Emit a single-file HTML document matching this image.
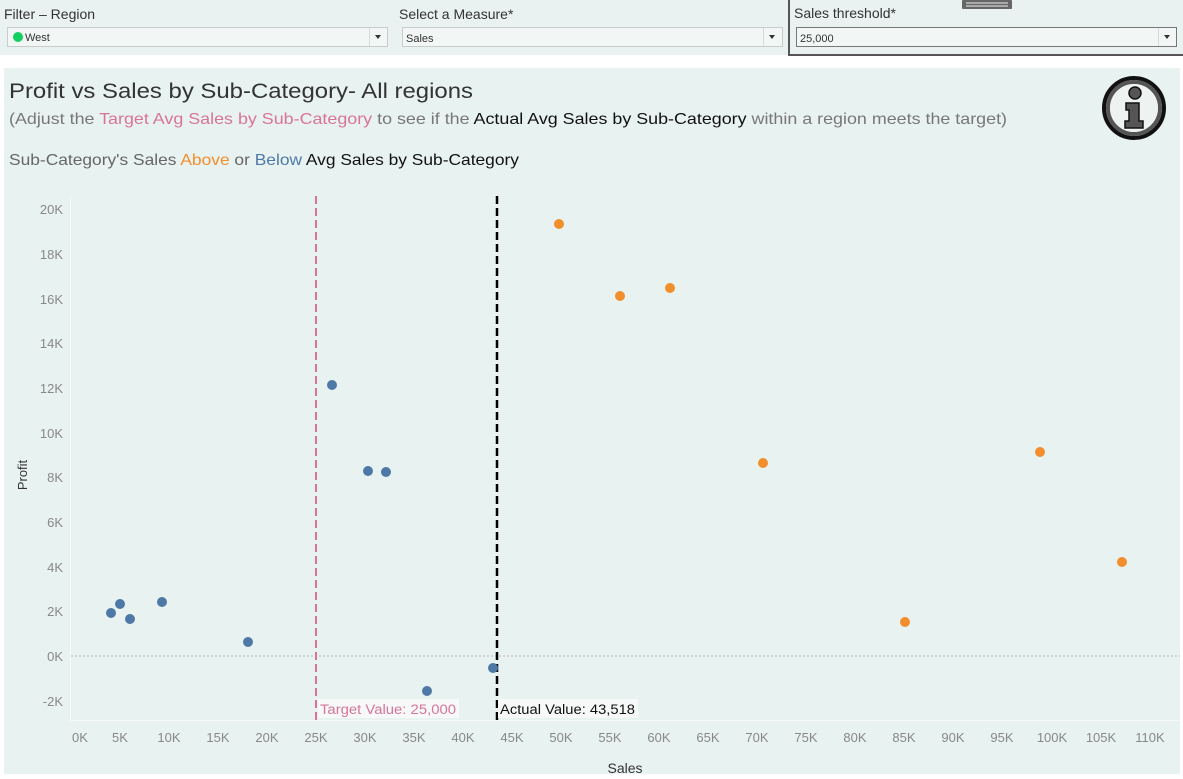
<!DOCTYPE html>
<html><head><meta charset="utf-8"><style>
body{margin:0;width:1183px;height:774px;background:#fff;overflow:hidden;font-family:"Liberation Sans",sans-serif;}
</style></head><body>
<svg width="1183" height="774" xmlns="http://www.w3.org/2000/svg" font-family="Liberation Sans, sans-serif">
<rect x="0" y="0" width="1183" height="55" fill="#e9f2f0"/>
<text x="4" y="19" font-size="14" fill="#333">Filter – Region</text>
<rect x="7.5" y="27.5" width="380" height="19" fill="#f2f7f6" stroke="#c8cccc"/>
<line x1="369.5" y1="28" x2="369.5" y2="46" stroke="#d5d9d9"/>
<path d="M375 35 l6 0 l-3 4z" fill="#333"/>
<circle cx="18" cy="37" r="5" fill="#12d060"/>
<text x="25" y="41" font-size="11" fill="#333">West</text>
<text x="399" y="19" font-size="14" fill="#333">Select a Measure*</text>
<rect x="402.5" y="27.5" width="380" height="19" fill="#f2f7f6" stroke="#c8cccc"/>
<line x1="763.5" y1="28" x2="763.5" y2="46" stroke="#d5d9d9"/>
<path d="M769 35 l6 0 l-3 4z" fill="#333"/>
<text x="406" y="42" font-size="11" fill="#333">Sales</text>
<path d="M789 0 V55 H1183" fill="none" stroke="#555" stroke-width="2"/>
<rect x="962" y="0" width="50" height="9" fill="#666" rx="1"/>
<line x1="966" y1="3" x2="1008" y2="3" stroke="#eee"/><line x1="966" y1="6" x2="1008" y2="6" stroke="#eee"/>
<text x="794" y="18" font-size="14" fill="#333">Sales threshold*</text>
<rect x="796.5" y="27.5" width="380" height="19" fill="#f2f7f6" stroke="#777"/>
<line x1="1158.5" y1="28" x2="1158.5" y2="46" stroke="#d5d9d9"/>
<path d="M1164 35 l6 0 l-3 4z" fill="#333"/>
<text x="800" y="42" font-size="11" fill="#333">25,000</text>

<rect x="4" y="68" width="1176" height="706" fill="#e8f2f0"/>
<text x="9" y="98" font-size="21" fill="#333" textLength="464" lengthAdjust="spacingAndGlyphs">Profit vs Sales by Sub-Category- All regions</text>
<text x="9" y="124" font-size="16" fill="#777" textLength="998" lengthAdjust="spacingAndGlyphs">(Adjust the <tspan fill="#d8749a">Target Avg Sales by Sub-Category</tspan> to see if the <tspan fill="#111">Actual Avg Sales by Sub-Category</tspan> within a region meets the target)</text>
<text x="9" y="165" font-size="16" fill="#666" textLength="510" lengthAdjust="spacingAndGlyphs">Sub-Category's Sales <tspan fill="#f28e2b">Above</tspan> or <tspan fill="#4e79a7">Below</tspan> <tspan fill="#111">Avg Sales by Sub-Category</tspan></text>
<circle cx="1134" cy="108" r="30" fill="none" stroke="#111" stroke-width="4"/>
<circle cx="1134" cy="108" r="26" fill="none" stroke="#555" stroke-width="4"/>
<circle cx="1134" cy="108" r="24" fill="#eef2f1"/>
<circle cx="1135" cy="93" r="6" fill="#555" stroke="#111" stroke-width="1.5"/>
<path d="M1126 103 h13 v18 h4 v7 h-18 v-7 h4 v-11 h-3z" fill="#555" stroke="#111" stroke-width="1.5"/>

<line x1="70.5" y1="196" x2="70.5" y2="720" stroke="#f6f9f8"/>
<line x1="70" y1="720.5" x2="1180" y2="720.5" stroke="#f6f9f8"/>
<line x1="71" y1="656" x2="1180" y2="656" stroke="#bbb" stroke-dasharray="2,2"/>
<g font-size="13" fill="#888" text-anchor="end">
<text x="63" y="214">20K</text><text x="63" y="259">18K</text><text x="63" y="304">16K</text><text x="63" y="348">14K</text><text x="63" y="393">12K</text><text x="63" y="438">10K</text><text x="63" y="482">8K</text><text x="63" y="527">6K</text><text x="63" y="572">4K</text><text x="63" y="616">2K</text><text x="63" y="661">0K</text><text x="63" y="706">-2K</text>
</g>
<text transform="translate(27,475) rotate(-90)" font-size="13" fill="#333" text-anchor="middle">Profit</text>
<g font-size="13" fill="#888" text-anchor="middle">
<text x="80" y="742">0K</text><text x="120" y="742">5K</text><text x="169" y="742">10K</text><text x="218" y="742">15K</text><text x="267" y="742">20K</text><text x="316" y="742">25K</text><text x="365" y="742">30K</text><text x="414" y="742">35K</text><text x="463" y="742">40K</text><text x="512" y="742">45K</text><text x="561" y="742">50K</text><text x="610" y="742">55K</text><text x="659" y="742">60K</text><text x="708" y="742">65K</text><text x="757" y="742">70K</text><text x="806" y="742">75K</text><text x="855" y="742">80K</text><text x="904" y="742">85K</text><text x="953" y="742">90K</text><text x="1002" y="742">95K</text><text x="1052" y="742">100K</text><text x="1101" y="742">105K</text><text x="1150" y="742">110K</text>
</g>
<text x="625" y="773" font-size="14" fill="#333" text-anchor="middle">Sales</text>

<line x1="316" y1="196" x2="316" y2="720" stroke="#d8749a" stroke-width="2" stroke-dasharray="8,4"/>
<line x1="497" y1="196" x2="497" y2="720" stroke="#000" stroke-width="2.5" stroke-dasharray="8,4"/>
<rect x="318" y="699" width="141" height="19" fill="#f6f9f8"/>
<text x="320" y="714" font-size="13.5" fill="#d8749a" textLength="136" lengthAdjust="spacingAndGlyphs">Target Value: 25,000</text>
<rect x="498" y="699" width="140" height="19" fill="#f6f9f8"/>
<text x="500" y="714" font-size="13.5" fill="#111" textLength="135" lengthAdjust="spacingAndGlyphs">Actual Value: 43,518</text>

<g fill="#4e79a7">
<circle cx="111" cy="613" r="5"/><circle cx="120" cy="604" r="5"/><circle cx="130" cy="619" r="5"/><circle cx="162" cy="602" r="5"/><circle cx="248" cy="642" r="5"/><circle cx="332" cy="385" r="5"/><circle cx="368" cy="471" r="5"/><circle cx="386" cy="472" r="5"/><circle cx="427" cy="691" r="5"/><circle cx="493" cy="668" r="5"/>
</g>
<g fill="#f28e2b">
<circle cx="559" cy="224" r="5"/><circle cx="620" cy="296" r="5"/><circle cx="670" cy="288" r="5"/><circle cx="763" cy="463" r="5"/><circle cx="905" cy="622" r="5"/><circle cx="1040" cy="452" r="5"/><circle cx="1122" cy="562" r="5"/>
</g>
</svg>
</body></html>
